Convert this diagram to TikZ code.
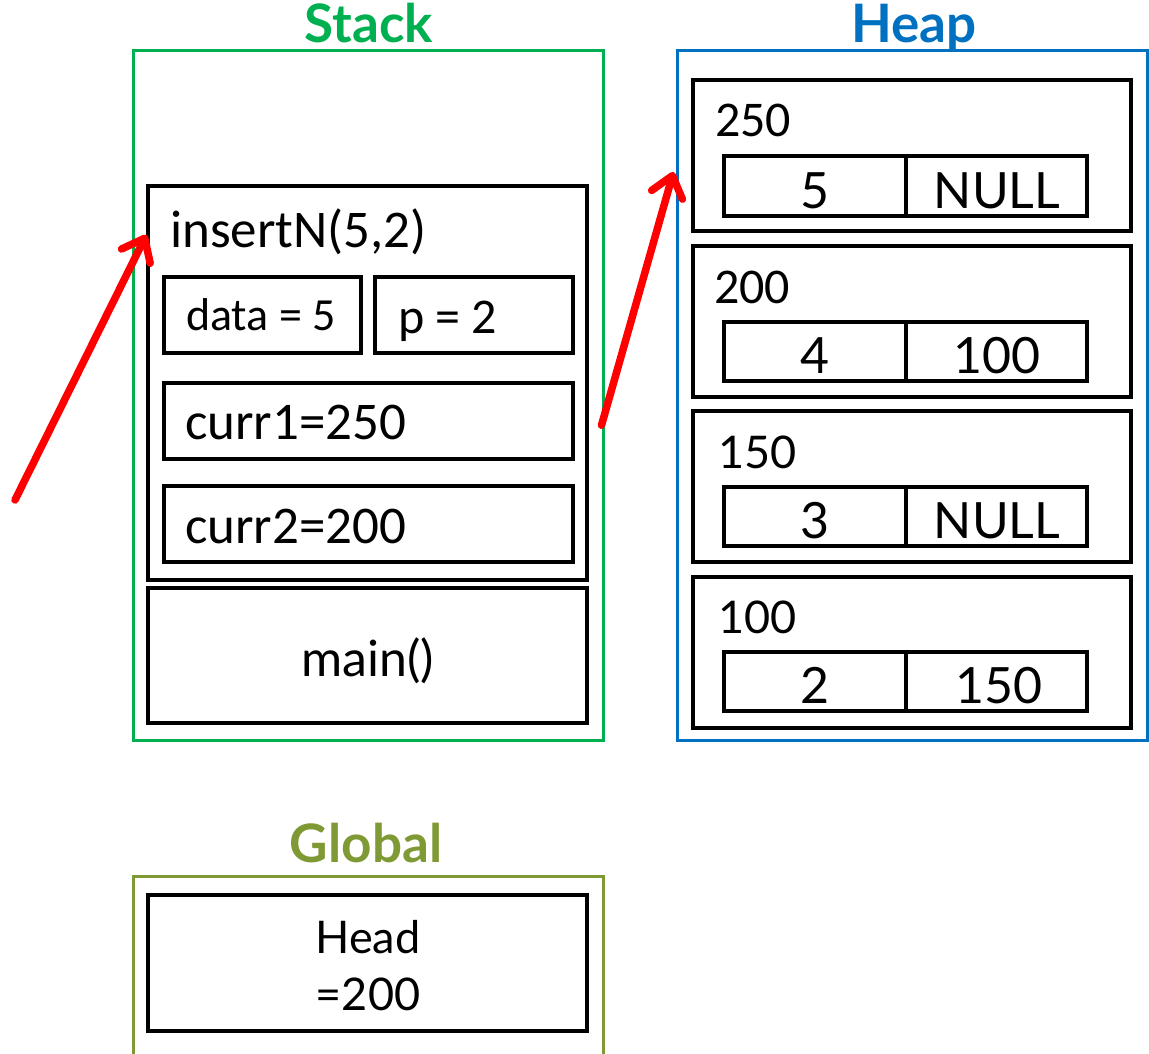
\documentclass[tikz,border=0pt]{standalone}
\usepackage{fontspec}
\setmainfont{Lato}
\newfontfamily\calfont{Carlito}
\usetikzlibrary{arrows.meta,calc}
\definecolor{stackg}{HTML}{00B050}
\definecolor{heapb}{HTML}{0070C0}
\definecolor{globo}{HTML}{7F9A35}
\definecolor{arrred}{HTML}{FF0000}
\tikzset{
  wh/.style 2 args={minimum width=#1pt, minimum height=#2pt},
  box/.style={draw=black, line width=3.2pt, inner sep=0pt},
  frame/.style={draw=#1, line width=3pt, inner sep=0pt},
  title/.style={inner sep=0pt, font=\bfseries\fontsize{53}{60}\selectfont},
  ctext/.style={inner sep=0pt, font=\calfont\fontsize{53}{60}\selectfont},
  gtext/.style={inner sep=0pt, font=\fontsize{#1}{#1}\selectfont},
  redarrow/.style={draw=arrred, line width=7.5pt, line cap=round,
    -{Straight Barb[length=20pt, width=32pt, line cap=round, line join=round]}}
}
\begin{document}
\begin{tikzpicture}[x=1pt,y=-1pt]
\useasboundingbox (0,0) rectangle (1149,1054);

% outer frames
\node[frame=stackg, wh={470}{689}] (stack) at (368,395.5) {};
\node[frame=heapb, wh={470}{689}] (heap) at (912,395.5) {};
\draw[draw=globo, line width=3pt] (133,1054) -- (133,876) -- (603,876) -- (603,1054);

% titles
\node[title, text=stackg, anchor=base] (stackt) at (369,43) {Stack};
\node[title, text=heapb, anchor=base] (heapt) at (914,43) {Heap};
\node[title, text=globo, anchor=base] (globt) at (366,862) {Global};

% stack frames
\node[box, wh={439}{394}] (ins) at (367.5,383) {};
\node[ctext, anchor=base west] (inst) at (170,247) {insertN(5,2)};
\node[box, wh={197}{76}] (data) at (262.5,315) {};
\node[ctext, font=\calfont\fontsize{46}{50}\selectfont, anchor=base] (datat) at (261,330) {data = 5};
\node[box, wh={198}{76}] (pbox) at (474,315) {};
\node[ctext, font=\calfont\fontsize{50}{55}\selectfont, anchor=base west] (ptext) at (398,333) {p = 2};
\node[box, wh={409}{76}] (c1) at (368.5,421) {};
\node[ctext, anchor=base west] (c1t) at (185,439) {curr1=250};
\node[box, wh={409}{76}] (c2) at (368.5,524) {};
\node[ctext, anchor=base west] (c2t) at (185,543) {curr2=200};
\node[box, wh={439}{135}] (mainb) at (367.5,655.5) {};
\node[gtext=50, anchor=base] (maint) at (368,676) {main()};

% global
\node[box, wh={439}{136}] (head) at (367.5,963) {};
\node[gtext=45, anchor=base] (headt1) at (368,953) {Head};
\node[gtext=45, anchor=base] (headt2) at (368,1010) {=200};

% heap nodes
\node[box, wh={438}{151}] (h1) at (912,155.5) {};
\node[ctext, font=\calfont\fontsize{50}{55}\selectfont, anchor=base west] (h1l) at (715,137) {250};
\node[box, wh={182}{60}] (h1a) at (815,186) {};
\node[box, wh={181}{60}] (h1b) at (996.5,186) {};
\node[gtext=50, anchor=base] (h1at) at (815,208) {5};
\node[gtext=50, anchor=base] (h1bt) at (997,208) {NULL};

\node[box, wh={438}{151}] (h2) at (912,321.5) {};
\node[ctext, font=\calfont\fontsize{50}{55}\selectfont, anchor=base west] (h2l) at (714,303) {200};
\node[box, wh={182}{59}] (h2a) at (815,351.5) {};
\node[box, wh={181}{59}] (h2b) at (996.5,351.5) {};
\node[gtext=50, anchor=base] (h2at) at (815,373.5) {4};
\node[gtext=50, anchor=base] (h2bt) at (997,373.5) {100};

\node[box, wh={438}{151}] (h3) at (912,486.5) {};
\node[gtext=45, anchor=base west] (h3l) at (718,468) {150};
\node[box, wh={182}{59}] (h3a) at (815,516.5) {};
\node[box, wh={181}{59}] (h3b) at (996.5,516.5) {};
\node[gtext=50, anchor=base] (h3at) at (815,538.5) {3};
\node[gtext=50, anchor=base] (h3bt) at (997,538.5) {NULL};

\node[box, wh={438}{151}] (h4) at (912,652.5) {};
\node[gtext=45, anchor=base west] (h4l) at (718,633) {100};
\node[box, wh={182}{59}] (h4a) at (815,681.5) {};
\node[box, wh={181}{59}] (h4b) at (996.5,681.5) {};
\node[gtext=50, anchor=base] (h4at) at (815,703.5) {2};
\node[gtext=50, anchor=base] (h4bt) at (999,703.5) {150};

% red arrows
\coordinate (a1s) at (15,500);
\coordinate (a1t) at ($(ins.north west)!0.127!(ins.south west)$);
\coordinate (a2s) at ($(stack.north east)!0.543!(stack.south east)+(-3,0)$);
\coordinate (a2t) at ($(heap.north west)!0.177!(heap.south west)+(-2,0)$);
\draw[redarrow] (a1s) -- (a1t);
\draw[redarrow] (a2s) -- (a2t);
\end{tikzpicture}
\end{document}
